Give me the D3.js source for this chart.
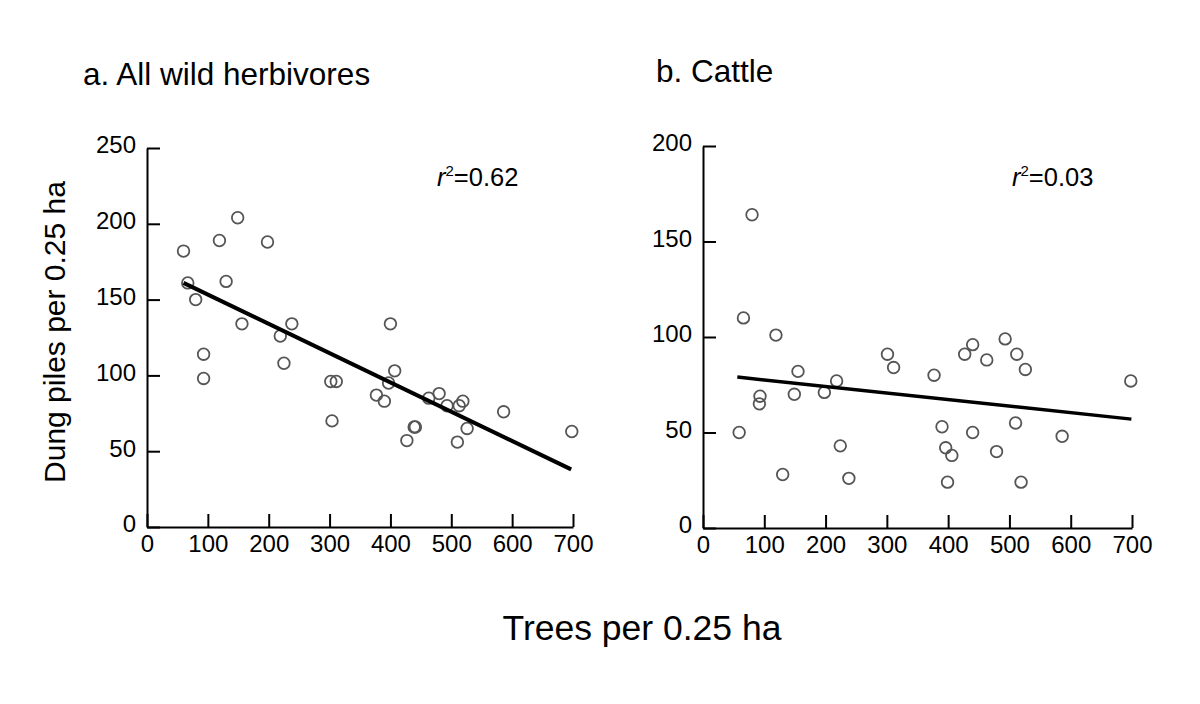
<!DOCTYPE html>
<head>
  <meta charset="UTF-8">
  <title>dung vs trees</title>
  <style>
  body, html, svg{
    padding: 0;
    margin: 0;
  }
  body{
    background: #fff;
  }
  text{
    font-family: "Liberation Sans", Arial, sans-serif;
    fill: #000;
  }
  </style>
</head>
<body>
  <script src="https://cdn.jsdelivr.net/npm/d3@7/dist/d3.min.js"></script>
  <script type="text/javascript">
  var width = 1200;
  var height = 704;

  // panel a: all wild herbivores
  var treesA = [60, 67, 80, 93, 93, 119, 130, 149, 156, 198, 219, 225, 238, 302, 311, 304,
    377, 390, 400, 397, 407, 427, 439, 441, 463, 480, 493, 513, 519, 526, 510, 586, 698];
  var dungA = [182, 161, 150, 114, 98, 189, 162, 204, 134, 188, 126, 108, 134, 96, 96, 70,
    87, 83, 134, 95, 103, 57, 66, 66, 85, 88, 80, 80, 83, 65, 56, 76, 63];
  var fitAX = [60, 697];
  var fitAY = [161, 38];

  // panel b: cattle
  var treesB = [59, 66, 80, 93, 92, 119, 130, 149, 155, 198, 218, 224, 238, 301, 311, 377,
    390, 396, 399, 406, 427, 440, 440, 463, 479, 493, 512, 510, 526, 519, 586, 698];
  var dungB = [50, 110, 164, 69, 65, 101, 28, 70, 82, 71, 77, 43, 26, 91, 84, 80,
    53, 42, 24, 38, 91, 96, 50, 88, 40, 99, 91, 55, 83, 24, 48, 77];
  var fitBX = [56, 699];
  var fitBY = [79, 57];

  var xTicks = [0, 100, 200, 300, 400, 500, 600, 700];
  var yTicksA = [0, 50, 100, 150, 200, 250];
  var yTicksB = [0, 50, 100, 150, 200];

  var svg = d3.select('body')
    .append('svg')
    .attr('width', width)
    .attr('height', height);

  var panels = [
    {title: 'a. All wild herbivores', tx: 83, ty: 85, r2: '0.62', rx: 437, ry: 186,
     xs: treesA, ys: dungA, fx: fitAX, fy: fitAY, yTicks: yTicksA, yMax: 250,
     x0: 147, x1: 573, y0: 527, y1: 148, lw: 4},
    {title: 'b. Cattle', tx: 656, ty: 82, r2: '0.03', rx: 1012, ry: 186,
     xs: treesB, ys: dungB, fx: fitBX, fy: fitBY, yTicks: yTicksB, yMax: 200,
     x0: 703, x1: 1132, y0: 528, y1: 146, lw: 3.5}
  ];

  panels.forEach(function(p){
    var x = d3.scaleLinear().domain([0, 700]).range([p.x0, p.x1]);
    var y = d3.scaleLinear().domain([0, p.yMax]).range([p.y0, p.y1]);
    var g = svg.append('g');

    var ax = g.append('g')
      .attr('transform', 'translate(0,' + p.y0 + ')')
      .call(d3.axisBottom(x).tickValues(xTicks).tickSizeInner(-13).tickSizeOuter(0).tickPadding(8));
    var ay = g.append('g')
      .attr('transform', 'translate(' + p.x0 + ',0)')
      .call(d3.axisLeft(y).tickValues(p.yTicks).tickSizeInner(-13).tickSizeOuter(0).tickPadding(11));
    [ax, ay].forEach(function(a){
      a.selectAll('path, line').attr('stroke', '#000').attr('stroke-width', 2);
      a.selectAll('text').attr('font-size', 24).attr('fill', '#000')
        .attr('font-family', '"Liberation Sans", Arial, sans-serif');
    });
    ay.selectAll('text').attr('dy', '0.2em');

    // points
    g.append('g')
      .selectAll('circle')
      .data(p.xs.map(function(d, i){ return [d, p.ys[i]]; }))
      .enter()
      .append('circle')
      .attr('cx', function(d){ return x(d[0]); })
      .attr('cy', function(d){ return y(d[1]); })
      .attr('r', 5.8)
      .attr('fill', 'none')
      .attr('stroke', '#555')
      .attr('stroke-width', 1.8);

    // regression line
    g.append('line')
      .attr('x1', x(p.fx[0])).attr('y1', y(p.fy[0]))
      .attr('x2', x(p.fx[1])).attr('y2', y(p.fy[1]))
      .attr('stroke', '#000')
      .attr('stroke-width', p.lw);

    g.append('text')
      .attr('x', p.tx).attr('y', p.ty)
      .attr('font-size', 31.5)
      .text(p.title);

    var r = g.append('text')
      .attr('x', p.rx).attr('y', p.ry)
      .attr('font-size', 25.5);
    r.append('tspan').attr('font-style', 'italic').text('r');
    r.append('tspan').attr('font-size', 15).attr('dy', -10).text('2');
    r.append('tspan').attr('dy', 10).text('=' + p.r2);
  });

  svg.append('text')
    .attr('transform', 'translate(65,332) rotate(-90)')
    .attr('text-anchor', 'middle')
    .attr('font-size', 30)
    .text('Dung piles per 0.25 ha');

  svg.append('text')
    .attr('x', 642).attr('y', 640)
    .attr('text-anchor', 'middle')
    .attr('font-size', 35.5)
    .text('Trees per 0.25 ha');
  </script>
</body>
</html>
